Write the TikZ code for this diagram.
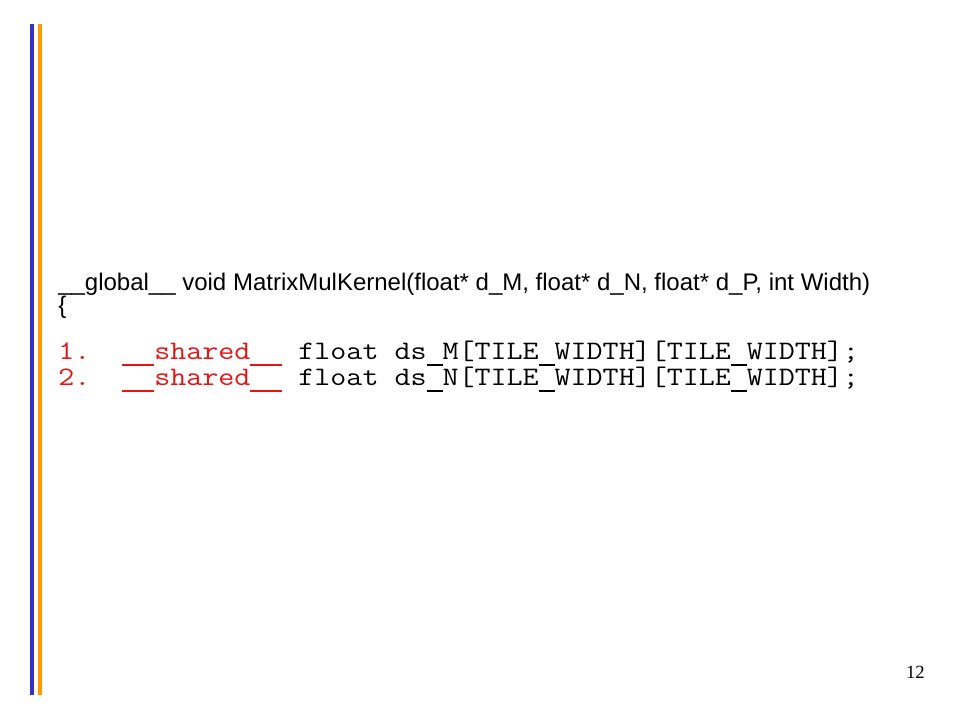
\documentclass[tikz,border=0pt]{standalone}
\usepackage{fontspec}
\newfontfamily\arialf{Liberation Sans}
\newfontfamily\timesf{Liberation Serif}
\definecolor{barblue}{RGB}{51,51,204}
\definecolor{barorange}{RGB}{255,153,0}
\definecolor{codered}{RGB}{230,20,20}
\newcommand{\monoline}[1]{\scalebox{1.16618}[1]{\ttfamily\fontsize{20}{24}\selectfont #1}}
\newcommand{\us}{\rule[-0.25em]{\fontcharwd\font`M}{0.05em}}
\begin{document}
\begin{tikzpicture}[x=0.75pt,y=-0.75pt,
  sanstext/.style={inner sep=0pt,anchor=base west,font=\arialf\fontsize{18}{21}\selectfont,text=black},
  monotext/.style={inner sep=0pt,anchor=base west},
  pagenum/.style={inner sep=0pt,anchor=base east,font=\timesf\fontsize{14}{16}\selectfont,text=black}]
\useasboundingbox[fill=white] (0,0) rectangle (960,720);
% side bars
\fill[barblue] (30,24) rectangle (34,695);
\fill[barorange] (38,24) rectangle (42,695);
% code
\node[sanstext] (sig) at (58,291) {\_\_global\_\_ void MatrixMulKernel(float* d\_M, float* d\_N, float* d\_P, int Width)};
\node[sanstext] (brace) at (58,313) {\{};
\node[monotext,text=codered] (n1) at (58,359) {\monoline{1.}};
\node[monotext] (l1) at (122,359) {\monoline{\textcolor{codered}{\us\us shared\us\us} float ds\us M[TILE\us WIDTH][TILE\us WIDTH];}};
\node[monotext,text=codered] (n2) at (58,385) {\monoline{2.}};
\node[monotext] (l2) at (122,385) {\monoline{\textcolor{codered}{\us\us shared\us\us} float ds\us N[TILE\us WIDTH][TILE\us WIDTH];}};
\node[pagenum] (pg) at (925,678) {12};
\end{tikzpicture}
\end{document}
